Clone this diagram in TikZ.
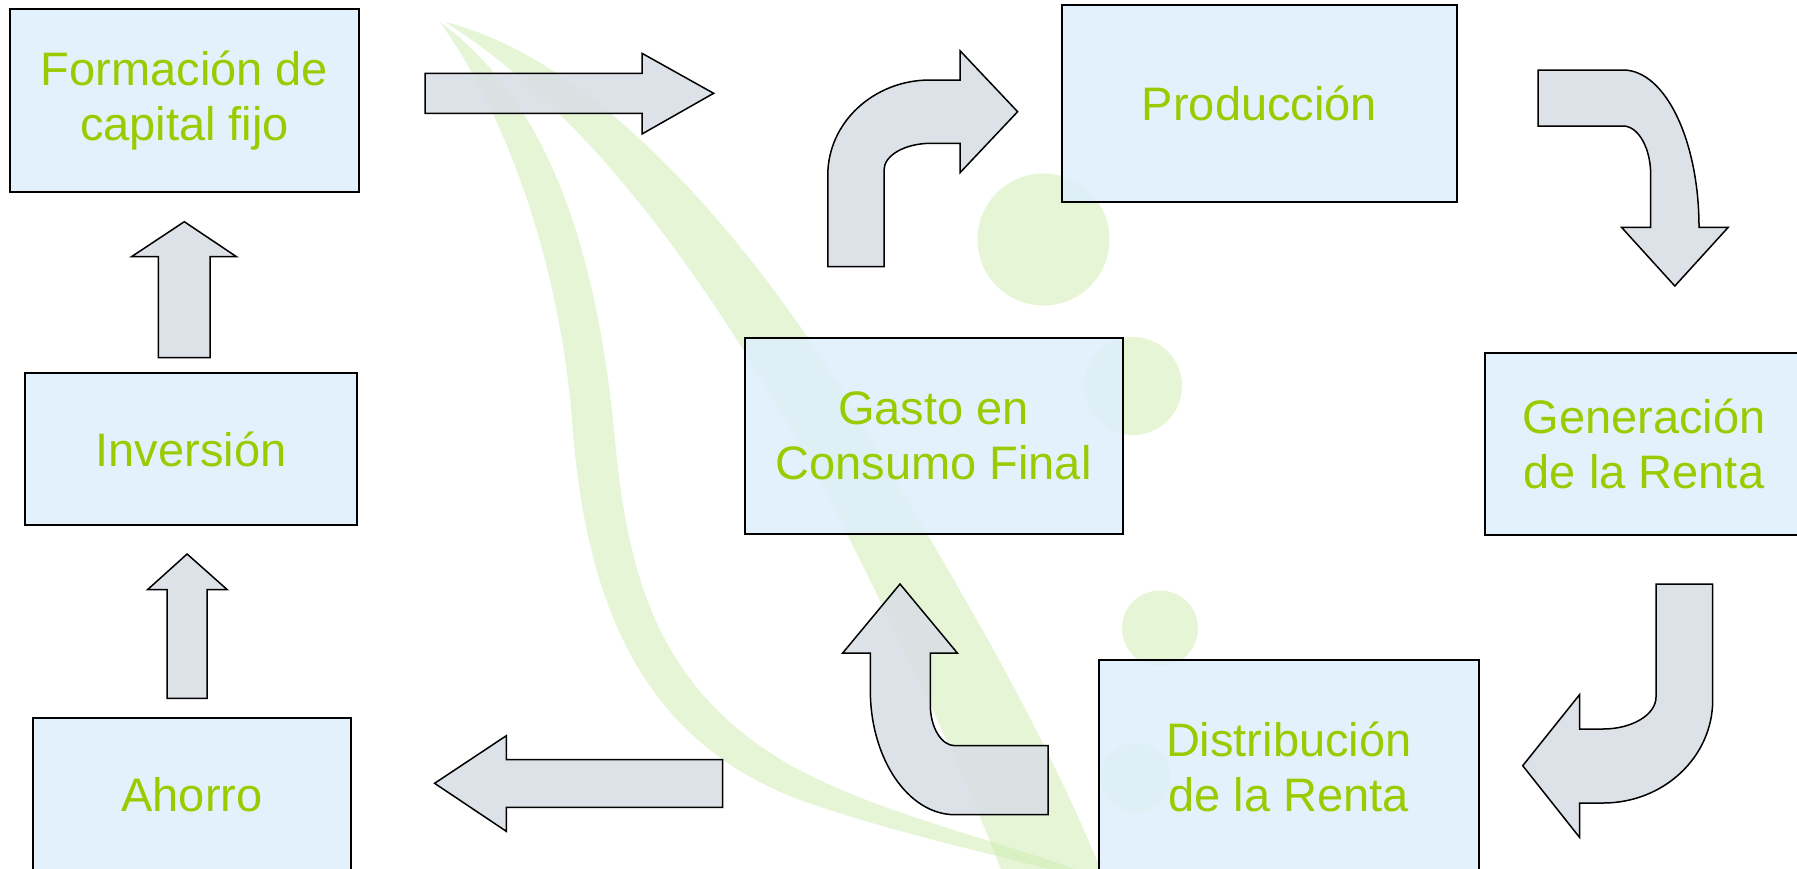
\documentclass[tikz,border=0pt]{standalone}
\usepackage{fontspec}
\setmainfont{Liberation Sans}
\definecolor{boxfill}{RGB}{221,238,253}
\definecolor{arrfill}{RGB}{216,222,230}
\definecolor{txtgreen}{RGB}{153,204,0}
\definecolor{wmgreen}{RGB}{205,236,175}
\begin{document}
\begin{tikzpicture}[x=0.5pt,y=-0.5pt,
  box/.style={draw=black, line width=1pt, fill=boxfill, fill opacity=0.82, text opacity=1,
    text=txtgreen, align=center, font=\fontsize{23.5}{27.5}\selectfont, inner sep=0pt},
  blockarrow/.style={draw=black, line width=0.75pt, fill=arrfill, fill opacity=0.85, line join=miter},
  wm/.style={fill=wmgreen, opacity=0.5, draw=none}]
\useasboundingbox (0,0) rectangle (1797,868);
\fill[white] (0,0) rectangle (1797,868);
% watermark
\fill[wm] (440,22) .. controls (510,120) and (560,270) .. (572,420)
  .. controls (585,600) and (640,740) .. (800,800) .. controls (900,835) and (1000,855) .. (1070,875)
  -- (1090,875) .. controls (1000,840) and (880,815) .. (790,765)
  .. controls (660,690) and (628,580) .. (615,440) .. controls (600,280) and (560,110) .. (440,22) -- cycle;
\fill[wm] (445,22) .. controls (600,60) and (760,250) .. (860,420)
  .. controls (960,590) and (1040,720) .. (1105,880)
  -- (1005,880) .. controls (960,760) and (900,640) .. (820,480)
  .. controls (720,300) and (600,120) .. (445,22) -- cycle;
\fill[wm] (1043.5,239.5) circle[radius=33pt];
\fill[wm] (1133,386) circle[radius=24.5pt];
\fill[wm] (1160,628.5) circle[radius=19pt];
\fill[wm] (1136,778) circle[radius=17.5pt];
% boxes
\node[box, minimum width=174.5pt, minimum height=91.5pt] (form) at (184.5,100.5) {Formación de\\capital fijo};
\node[box, minimum width=166pt, minimum height=76pt] (inv) at (191,449) {Inversión};
\node[box, minimum width=159pt, minimum height=77pt] (ahorro) at (192,795) {Ahorro};
\node[box, minimum width=189pt, minimum height=98pt] (gasto) at (933.5,436) {Gasto en\\Consumo Final};
\node[box, minimum width=197.5pt, minimum height=98.5pt] (prod) at (1259.5,103.5) {Producción};
\node[box, minimum width=159pt, minimum height=91pt] (gen) at (1644,444) {Generación\\de la Renta};
\node[box, minimum width=189.75pt, minimum height=107pt] (dist) at (1288.75,767) {Distribución\\de la Renta};
% straight arrows
\draw[blockarrow] (425,73.3) -- (642,73.3) -- (642,53.3) -- (713.6,93.3) -- (642,134) -- (642,113.3) -- (425,113.3) -- cycle;
\draw[blockarrow] (184.3,221.7) -- (236.5,256.7) -- (210.1,256.7) -- (210.1,357.7) -- (158.4,357.7) -- (158.4,256.7) -- (131.5,256.7) -- cycle;
\draw[blockarrow] (187.1,554) -- (227.3,589.7) -- (207.2,589.7) -- (207.2,698.3) -- (167,698.3) -- (167,589.7) -- (147.5,589.7) -- cycle;
\draw[blockarrow] (434.6,783.3) -- (506.3,735.7) -- (506.3,759.7) -- (722.7,759.7) -- (722.7,807.3) -- (506.3,807.3) -- (506.3,831.3) -- cycle;
% curved arrows
\draw[blockarrow] (827.8,266.7) -- (827.8,175) .. controls (827.8,122.6) and (873.6,80) .. (930,80) -- (960,80) -- (960,50.7)
  -- (1017.6,111.7) -- (960,172.7) -- (960,143.3) -- (931,143.3) .. controls (905.1,143.3) and (884,155.3) .. (884,170)
  -- (884,266.7) -- cycle;
\draw[blockarrow] (1538.2,70) -- (1623,70) .. controls (1665,70) and (1699,140) .. (1699,227.3) -- (1728.2,227.3)
  -- (1674.8,286) -- (1621.5,227.3) -- (1650.7,227.3) -- (1650.7,175) .. controls (1650.7,148) and (1638.3,126) .. (1623,126)
  -- (1538.2,126) -- cycle;
\draw[blockarrow] (1656,584) -- (1712.7,584) -- (1712.7,700) .. controls (1712.7,757) and (1663.7,803) .. (1603,803)
  -- (1579.5,803) -- (1579.5,837.3) -- (1522.7,765.7) -- (1579.5,694.7) -- (1579.5,729) -- (1603,729)
  .. controls (1632,729) and (1656,714.7) .. (1656,697) -- cycle;
\draw[blockarrow] (900,584) -- (957.3,653) -- (930.3,653) -- (930.3,705) .. controls (930.3,727.5) and (941.4,745.7) .. (955,745.7)
  -- (1048,745.7) -- (1048,814.7) -- (955,814.7) .. controls (908.2,814.7) and (870.3,758.8) .. (870.3,690)
  -- (870.3,653) -- (842.7,653) -- cycle;
\end{tikzpicture}
\end{document}
